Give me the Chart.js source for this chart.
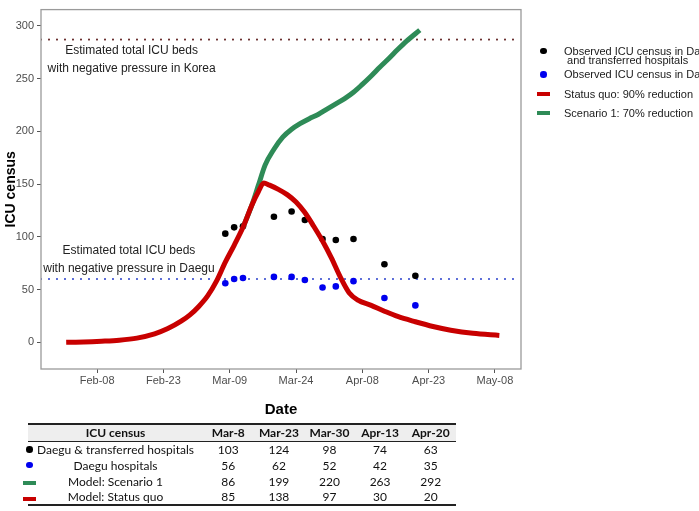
<!DOCTYPE html>
<html><head><meta charset="utf-8">
<script src="https://cdn.jsdelivr.net/npm/chart.js@4.4.1/dist/chart.umd.min.js"></script>
<style>
html,body{margin:0;padding:0;background:#fff;overflow:hidden;}
#wrap{position:relative;width:699px;height:511px;overflow:hidden;background:#fff;}
#c{position:absolute;left:0;top:0;}
.lt{position:absolute;font:11px "Liberation Sans",Arial,sans-serif;color:#1a1a1a;white-space:nowrap;line-height:12px;}
.dot{position:absolute;border-radius:50%;}
.bar{position:absolute;}
#tbl{position:absolute;left:28px;top:423px;width:428px;}
#tbl table{border-collapse:collapse;width:428px;font:12px Lato,"Open Sans",sans-serif;color:#111;table-layout:fixed;}
#tbl th,#tbl td{padding:0;text-align:center;white-space:nowrap;}
#tbl thead tr{background:#eeeeee;border-top:2px solid #222;border-bottom:1.5px solid #222;height:17px;}
#tbl th{font-weight:bold;}
#tbl tbody tr{height:16px;}
#tbl tbody tr:last-child{border-bottom:2px solid #222;}
</style>
</head><body>
<div id="wrap">
<canvas id="c" width="699" height="511"></canvas>
<div id="legend"></div>
<div id="tbl"></div>
</div>
<script>
// ---------------- data ----------------
const BASE_DATE = '2020-02-08';
const xTickDates = ['2020-02-08','2020-02-23','2020-03-09','2020-03-24','2020-04-08','2020-04-23','2020-05-08'];
const xTickLabels = ['Feb-08','Feb-23','Mar-09','Mar-24','Apr-08','Apr-23','May-08'];
const yTickValues = [0,50,100,150,200,250,300];

const obsDates = ['2020-03-08','2020-03-10','2020-03-12','2020-03-19','2020-03-23','2020-03-26','2020-03-30','2020-04-02','2020-04-06','2020-04-13','2020-04-20'];
const obsDaeguTransferred = [103,109,110,119,124,116,98,97,98,74,63];
const obsDaegu = [56,60,61,62,62,59,52,53,58,42,35];

// model curves: days after Feb-08 and ICU census
const statusQuoDays  = [-7,-3,1,5,9,13,16,19,21,23,25,27,29,31,33,35,36.5,37.7,39,41,43,45,47,49,51,53,55,57,59,62,65,68,72,76,80,85,91];
const statusQuoValues= [0,0.3,1,2,4,8,13,20,26,34,44,58,76,92,109,130,143,151,149,145,140,133,123,110,96,80,62,47,40,35,29.5,24.5,19.5,15,11.5,8.5,6.5];
const scenario1Days  = [33,35,36.5,38,40,42,44,46,48,50,52,54,56,58,60,62,64,66,68,70,73];
const scenario1Values= [109,130,149,168,183,194.5,202,207.5,212,216,221,226,231,237,244.5,252.5,261,269,277.5,285.5,296];

const koreaBeds = 287;
const daeguBeds = 60;

const legendLabels = [['Observed ICU census in Daegu',' and transferred hospitals'],['Observed ICU census in Daegu hospitals'],['Status quo: 90% reduction'],['Scenario 1: 70% reduction']];

const tableDates = ['Mar-8','Mar-23','Mar-30','Apr-13','Apr-20'];
const tableRowLabels = ['Daegu & transferred hospitals','Daegu hospitals','Model: Scenario 1','Model: Status quo'];
const tblDaeguTransferred = [103,124,98,74,63];
const tblDaegu = [56,62,52,42,35];
const tblScenario1 = [86,199,220,263,292];
const tblStatusQuo = [85,138,97,30,20];

const annotations = [
  {lines:['Estimated total ICU beds','with negative pressure in Korea'], day:7.8, value:268},
  {lines:['Estimated total ICU beds','with negative pressure in Daegu'], day:7.2, value:78}
];
// ---------------------------------------
const dayOf = s => (Date.parse(s) - Date.parse(BASE_DATE)) / 86400000;
const X_MIN = -12.7, X_MAX = 95.9;
const C_BLACK = '#000000', C_BLUE = '#0000ee', C_RED = '#c80000', C_GREEN = '#2e8b57';

const pts = (xs, ys) => xs.map((x,i)=>({x, y: ys[i]}));

const framePlugin = {
  id:'frame',
  afterDraw(chart){
    const {ctx, chartArea:a, scales} = chart;
    ctx.save();
    ctx.strokeStyle = '#9a9a9a'; ctx.lineWidth = 1.3;
    ctx.strokeRect(a.left, a.top, a.right-a.left, a.bottom-a.top);
    ctx.fillStyle = '#222';
    ctx.font = '12px "Liberation Sans", Arial, sans-serif';
    ctx.textAlign = 'center'; ctx.textBaseline = 'middle';
    annotations.forEach(an=>{
      const cx = scales.x.getPixelForValue(an.day);
      const cy = scales.y.getPixelForValue(an.value);
      const lh = 17.8;
      an.lines.forEach((t,i)=>{
        ctx.fillText(t, cx, cy + (i - (an.lines.length-1)/2)*lh);
      });
    });
    ctx.restore();
  }
};

new Chart(document.getElementById('c'), {
  type:'line',
  data:{
    datasets:[
      {label:'koreaBeds', data:[{x:X_MIN,y:koreaBeds},{x:X_MAX,y:koreaBeds}], borderColor:'#6b3030', borderWidth:2.2, borderDash:[0,8], borderCapStyle:'round', pointRadius:0, order:5},
      {label:'daeguBeds', data:[{x:X_MIN,y:daeguBeds},{x:X_MAX,y:daeguBeds}], borderColor:'#3a4fd0', borderWidth:2.2, borderDash:[0,8], borderCapStyle:'round', pointRadius:0, order:5},
      {label:legendLabels[0].join(''), data:pts(obsDates.map(dayOf), obsDaeguTransferred), showLine:false, pointRadius:3.3, pointBorderWidth:0, pointBackgroundColor:C_BLACK, backgroundColor:C_BLACK, order:4},
      {label:legendLabels[1][0], data:pts(obsDates.map(dayOf), obsDaegu), showLine:false, pointRadius:3.3, pointBorderWidth:0, pointBackgroundColor:C_BLUE, backgroundColor:C_BLUE, order:4},
      {label:legendLabels[3][0], data:pts(scenario1Days, scenario1Values), borderColor:C_GREEN, borderWidth:5, pointRadius:0, cubicInterpolationMode:'monotone', order:2},
      {label:legendLabels[2][0], data:pts(statusQuoDays, statusQuoValues), borderColor:C_RED, borderWidth:5, pointRadius:0, cubicInterpolationMode:'monotone', order:1}
    ]
  },
  options:{
    responsive:false, animation:false, devicePixelRatio:1,
    layout:{padding:{left:0, top:9, right:178, bottom:91}},
    plugins:{legend:{display:false}, tooltip:{enabled:false}},
    scales:{
      x:{
        type:'linear', min:X_MIN, max:X_MAX,
        afterFit(s){ s.height = 51; },
        afterBuildTicks(s){ s.ticks = xTickDates.map(d=>({value:dayOf(d)})); },
        ticks:{callback:(v,i)=>xTickLabels[i], color:'#4d4d4d', font:{family:'"Liberation Sans", Arial, sans-serif', size:11}, padding:1, maxRotation:0, autoSkip:false},
        grid:{drawOnChartArea:false, tickLength:4, tickColor:'#555', tickWidth:1},
        border:{display:false},
        title:{display:true, text:'Date', color:'#000', font:{family:'"Liberation Sans", Arial, sans-serif', size:15, weight:'bold'}, padding:{top:0,bottom:1}}
      },
      y:{
        type:'linear', min:-25.3, max:315.4,
        afterFit(s){ s.width = 41; },
        afterBuildTicks(s){ s.ticks = yTickValues.map(v=>({value:v})); },
        ticks:{color:'#4d4d4d', font:{family:'"Liberation Sans", Arial, sans-serif', size:11}, padding:3},
        grid:{drawOnChartArea:false, tickLength:4, tickColor:'#555', tickWidth:1},
        border:{display:false},
        title:{display:true, text:'ICU census', color:'#000', font:{family:'"Liberation Sans", Arial, sans-serif', size:14, weight:'bold'}, padding:{top:2.6,bottom:0}}
      }
    }
  },
  plugins:[framePlugin]
});

// ---------- legend (HTML) ----------
(function(){
  const L = document.getElementById('legend');
  const add = (html)=>{ L.insertAdjacentHTML('beforeend', html); };
  const textX = 564;
  add(`<div class="dot" style="left:540px;top:47.5px;width:6.5px;height:6.5px;background:${C_BLACK}"></div>`);
  add(`<div class="lt" style="left:${textX}px;top:44.5px">${legendLabels[0][0]}</div>`);
  add(`<div class="lt" style="left:${textX}px;top:54px">${legendLabels[0][1].replace(/^ /,'&nbsp;')}</div>`);
  add(`<div class="dot" style="left:540px;top:71px;width:6.5px;height:6.5px;background:${C_BLUE}"></div>`);
  add(`<div class="lt" style="left:${textX}px;top:68px">${legendLabels[1][0]}</div>`);
  add(`<div class="bar" style="left:537px;top:91.5px;width:13px;height:4px;background:${C_RED}"></div>`);
  add(`<div class="lt" style="left:${textX}px;top:87.5px">${legendLabels[2][0]}</div>`);
  add(`<div class="bar" style="left:537px;top:110.5px;width:13px;height:4px;background:${C_GREEN}"></div>`);
  add(`<div class="lt" style="left:${textX}px;top:106.5px">${legendLabels[3][0]}</div>`);
})();

// ---------- table (HTML) ----------
(function(){
  const rows = [tblDaeguTransferred, tblDaegu, tblScenario1, tblStatusQuo];
  let h = '<table><colgroup><col style="width:175px">' + tableDates.map(()=> '<col style="width:50.6px">').join('') + '</colgroup>';
  h += '<thead><tr><th>ICU census</th>' + tableDates.map(d=>`<th>${d}</th>`).join('') + '</tr></thead><tbody>';
  rows.forEach((r,i)=>{
    h += `<tr><td>${tableRowLabels[i].replace('&','&amp;')}</td>` + r.map(v=>`<td>${v}</td>`).join('') + '</tr>';
  });
  h += '</tbody></table>';
  const T = document.getElementById('tbl');
  T.innerHTML = h;
  const W = document.getElementById('wrap');
  const icon = s => W.insertAdjacentHTML('beforeend', s);
  icon(`<div class="dot" style="left:26px;top:446px;width:6.5px;height:6.5px;background:${C_BLACK}"></div>`);
  icon(`<div class="dot" style="left:26px;top:461.5px;width:6.5px;height:6.5px;background:${C_BLUE}"></div>`);
  icon(`<div class="bar" style="left:23px;top:481px;width:13px;height:4px;background:${C_GREEN}"></div>`);
  icon(`<div class="bar" style="left:23px;top:497px;width:13px;height:4px;background:${C_RED}"></div>`);
})();
</script>
</body></html>
